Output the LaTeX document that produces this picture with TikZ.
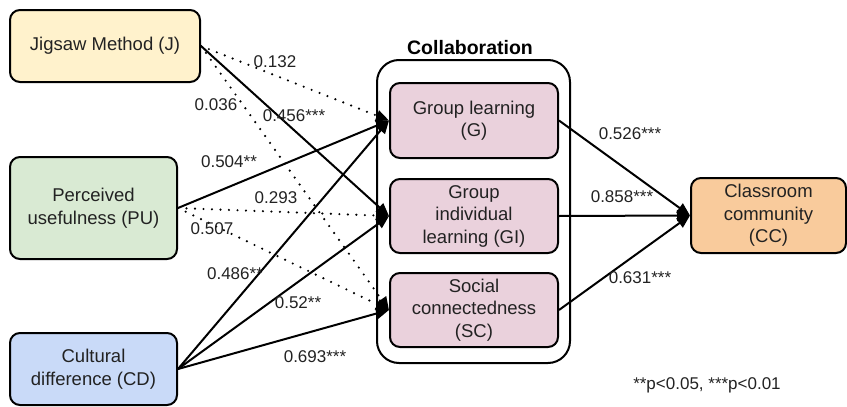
\documentclass[tikz,border=0pt]{standalone}
\usepackage{fontspec}
\setmainfont{Liberation Sans}
\usetikzlibrary{arrows.meta}
\definecolor{cJ}{HTML}{FFF2CC}
\definecolor{cPU}{HTML}{D9EAD3}
\definecolor{cCD}{HTML}{C9DAF8}
\definecolor{cPink}{HTML}{EAD1DC}
\definecolor{cCC}{HTML}{F9CB9C}
\definecolor{ink}{HTML}{222222}
\begin{document}
\begin{tikzpicture}[x=1pt,y=-1pt,
  box/.style={draw=black,line width=2pt,rounded corners=10pt,align=center,
    font=\fontsize{18.5}{22.5}\selectfont,text=ink,inner sep=0pt},
  lbl/.style={font=\fontsize{17}{20}\selectfont,text=ink,inner sep=1pt},
  arr/.style={line width=2pt,-{Triangle[length=13pt,width=11pt]}},
  dotarr/.style={line width=2.4pt,dash pattern=on 0pt off 8.5pt,line cap=round,
    -{Triangle[length=13pt,width=11pt]}}]
\useasboundingbox (0,0) rectangle (847,407);
% collaboration frame
\draw[line width=2pt,rounded corners=22pt] (377,60) rectangle (570,363);
\node[font=\bfseries\fontsize{19.5}{22}\selectfont,inner sep=0pt] (title) at (470,48) {Collaboration};
% nodes
\node[box,fill=cJ,minimum width=190pt,minimum height=72pt] (J) at (105,46) {Jigsaw Method (J)};
\node[box,fill=cPU,minimum width=167pt,minimum height=102pt] (PU) at (93.5,208) {Perceived\\usefulness (PU)};
\node[box,fill=cCD,minimum width=167pt,minimum height=72pt] (CD) at (93.5,369) {Cultural\\difference (CD)};
\node[box,fill=cPink,minimum width=168pt,minimum height=75pt] (G) at (474,120.5) {Group learning\\(G)};
\node[box,fill=cPink,minimum width=168pt,minimum height=74pt] (GI) at (474,216) {Group\\individual\\learning (GI)};
\node[box,fill=cPink,minimum width=168pt,minimum height=74pt] (SC) at (474,310) {Social\\connectedness\\(SC)};
\node[box,fill=cCC,minimum width=155pt,minimum height=75pt] (CC) at (768.5,215.5) {Classroom\\community\\(CC)};
% connectors
\draw[dotarr] (J.east) -- (G.west);
\draw[arr] (J.east) -- (GI.west);
\draw[dotarr] (J.east) -- (SC.west);
\draw[arr] (PU.east) -- (G.west);
\draw[dotarr] (PU.east) -- (GI.west);
\draw[dotarr] (PU.east) -- (SC.west);
\draw[arr] (CD.east) -- (G.west);
\draw[arr] (CD.east) -- (GI.west);
\draw[arr] (CD.east) -- (SC.west);
\draw[arr] (G.east) -- (CC.west);
\draw[arr] (GI.east) -- (CC.west);
\draw[arr] (SC.east) -- (CC.west);
% labels
\node[lbl] (l1) at (275,62) {0.132};
\node[lbl] (l2) at (216,105) {0.036};
\node[lbl] (l3) at (294,116) {0.456***};
\node[lbl] (l4) at (229,162) {0.504**};
\node[lbl] (l5) at (276,198) {0.293};
\node[lbl] (l6) at (212,229) {0.507};
\node[lbl] (l7) at (235,274) {0.486**};
\node[lbl] (l8) at (298,303) {0.52**};
\node[lbl] (l9) at (315,357) {0.693***};
\node[lbl] (l10) at (630,134) {0.526***};
\node[lbl] (l11) at (622,197) {0.858***};
\node[lbl] (l12) at (640,278) {0.631***};
\node[lbl] (note) at (707,385) {**p<0.05, ***p<0.01};
\end{tikzpicture}
\end{document}
